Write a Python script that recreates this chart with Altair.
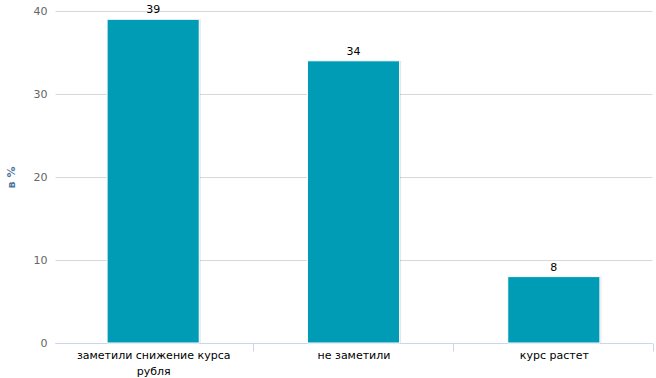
import altair as alt
import pandas as pd

categories = ["заметили снижение курса рубля", "не заметили", "курс растет"]
values = [39, 34, 8]

df = pd.DataFrame({"cat": categories, "val": values})

FONT = "DejaVu Sans"

x = alt.X(
    "cat:N",
    sort=categories,
    title=None,
    scale=alt.Scale(paddingInner=0.54, paddingOuter=0.26),
    axis=alt.Axis(
        labelAngle=0,
        labelFont=FONT,
        labelFontSize=11,
        labelColor="#000000",
        labelPadding=-2,
        labelLimit=300,
        labelLineHeight=16,
        labelBaseline="top",
        domainColor="#ccd6eb",
        tickColor="#ccd6eb",
        tickSize=8,
        tickOffset=99.5,
        labelOffset=-99.5,
        labelExpr="datum.value == 'заметили снижение курса рубля' ? ['заметили снижение курса', 'рубля'] : datum.value",
    ),
)

y = alt.Y(
    "val:Q",
    title="в %",
    scale=alt.Scale(domain=[0, 40]),
    axis=alt.Axis(
        values=[0, 10, 20, 30, 40],
        labelFont=FONT,
        labelFontSize=11,
        labelColor="#666666",
        labelPadding=8,
        gridColor="#d8d8d8",
        domain=False,
        ticks=False,
        titleFont=FONT,
        titleFontSize=11,
        titleFontWeight="bold",
        titleColor="#4d759e",
        titlePadding=17,
    ),
)

base = alt.Chart(df)

shadow = base.mark_bar(color="#000000", opacity=0.10, xOffset=1.5).encode(x=x, y=y)
bars = base.mark_bar(color="#009cb5", stroke="#ffffff", strokeWidth=1).encode(x=x, y=y)
labels = base.mark_text(
    font=FONT, fontSize=11, color="#000000", baseline="bottom", dy=-4
).encode(x=x, y=y, text="val:Q")

chart = (
    alt.layer(shadow, bars, labels)
    .properties(
        width=597,
        height=332,
        autosize=alt.AutoSizeParams(type="none"),
        padding={"left": 55, "top": 11, "right": 4, "bottom": 35},
    )
    .configure_view(stroke=None)
    .configure_axisX(grid=False)
)

chart.save("out.html", embed_options={"renderer": "svg", "actions": False})
